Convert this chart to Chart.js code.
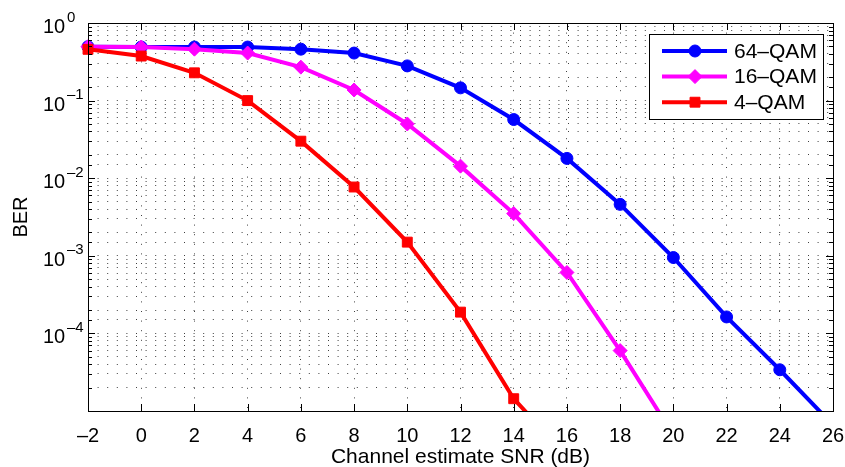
<!DOCTYPE html>
<html>
<head>
<meta charset="utf-8">
<title>BER vs Channel estimate SNR</title>
<script src="https://cdn.jsdelivr.net/npm/chart.js@4.4.1/dist/chart.umd.min.js"></script>
<style>
    html, body { margin: 0; padding: 0; background: #fff; }
    #wrap { width: 845px; height: 467px; }
</style>
</head>
<body>
<div id="wrap"><canvas id="berChart"></canvas></div>
<script>
// Datos (BER vs SNR)
const snrDb = [-2, 0, 2, 4, 6, 8, 10, 12, 14, 16, 18, 20, 22, 24, 26];
const ber64 = [0.495, 0.49, 0.49, 0.49, 0.46, 0.41, 0.28, 0.146, 0.057, 0.018, 0.0046, 0.00095, 1.63e-4, 3.4e-5, 6.6e-6];
const ber16 = [0.495, 0.49, 0.46, 0.41, 0.27, 0.137, 0.05, 0.0143, 0.0035, 6.1e-4, 6.0e-5, 4.9e-6];
const ber4 = [0.458, 0.375, 0.228, 0.1, 0.030, 0.0077, 0.0015, 1.88e-4, 1.44e-5, 2.6e-6];
const seriesLabels = ['64–QAM', '16–QAM', '4–QAM'];
const xTickValues = [-2, 0, 2, 4, 6, 8, 10, 12, 14, 16, 18, 20, 22, 24, 26];
const yTickExponents = [0, -1, -2, -3, -4];

const FONT = "'Liberation Sans', Arial, sans-serif";
const GRID = 'rgba(0, 0, 0, 0.75)';

function toPoints(values) {
    return values.map((v, i) => ({ x: snrDb[i], y: v }));
}

function makeSeries(label, values, color, style, radius, order) {
    return {
        label: label,
        data: toPoints(values),
        borderColor: color,
        backgroundColor: color,
        borderWidth: 4,
        pointStyle: style,
        pointRadius: radius,
        pointBorderWidth: 1,
        pointBackgroundColor: color,
        pointBorderColor: color,
        tension: 0,
        order: order,
        clip: { left: 12, top: 12, right: 0, bottom: 0 }
    };
}

// Caja de ejes con marcas hacia dentro (estilo MATLAB)
const axesBox = {
    id: 'axesBox',
    afterDatasetsDraw(chart) {
        const ctx = chart.ctx;
        const a = chart.chartArea;
        const xs = chart.scales.x;
        const ys = chart.scales.y;
        ctx.save();
        ctx.strokeStyle = '#000';
        ctx.lineWidth = 1;
        ctx.beginPath();
        xs.ticks.forEach(t => {
            const px = Math.round(xs.getPixelForValue(t.value)) + 0.5;
            ctx.moveTo(px, a.bottom);
            ctx.lineTo(px, a.bottom - 7);
            ctx.moveTo(px, a.top);
            ctx.lineTo(px, a.top + 7);
        });
        ys.ticks.forEach(t => {
            const e = Math.log10(t.value);
            const len = Math.abs(e - Math.round(e)) < 1e-9 ? 7 : 4;
            const py = Math.round(ys.getPixelForValue(t.value)) + 0.5;
            ctx.moveTo(a.left, py);
            ctx.lineTo(a.left + len, py);
            ctx.moveTo(a.right, py);
            ctx.lineTo(a.right - len, py);
        });
        ctx.stroke();
        ctx.strokeRect(Math.round(a.left) + 0.5, Math.round(a.top) + 0.5,
            Math.round(a.right - a.left), Math.round(a.bottom - a.top));
        ctx.restore();
    }
};

// Etiquetas 10^n del eje Y
const yLabels = {
    id: 'yLabels',
    afterDraw(chart) {
        const ctx = chart.ctx;
        const ys = chart.scales.y;
        const left = chart.chartArea.left;
        ctx.save();
        ctx.fillStyle = '#000';
        ctx.textAlign = 'left';
        ctx.textBaseline = 'alphabetic';
        yTickExponents.forEach(e => {
            const py = ys.getPixelForValue(Math.pow(10, e));
            ctx.font = '20px ' + FONT;
            ctx.fillText('10', left - 45, py + 10);
            ctx.font = '15px ' + FONT;
            ctx.fillText(e < 0 ? '–' + (-e) : String(e), left - 21, py - 1.5);
        });
        ctx.restore();
    }
};

// Leyenda con recuadro dentro del área
const boxLegend = {
    id: 'boxLegend',
    afterDraw(chart) {
        const ctx = chart.ctx;
        const a = chart.chartArea;
        const w = 174, h = 85;
        const x0 = Math.round(a.right - 10 - w);
        const y0 = Math.round(a.top + 11);
        ctx.save();
        ctx.fillStyle = '#fff';
        ctx.fillRect(x0, y0, w, h);
        ctx.strokeStyle = '#000';
        ctx.lineWidth = 1;
        ctx.strokeRect(x0 + 0.5, y0 + 0.5, w, h);
        chart.data.datasets.forEach((ds, i) => {
            const cy = y0 + 17 + i * 25.6;
            ctx.strokeStyle = ds.borderColor;
            ctx.fillStyle = ds.borderColor;
            ctx.lineWidth = ds.borderWidth;
            ctx.beginPath();
            ctx.moveTo(x0 + 13, cy);
            ctx.lineTo(x0 + 78, cy);
            ctx.stroke();
            ctx.lineWidth = 1;
            Chart.helpers.drawPoint(ctx, {
                pointStyle: ds.pointStyle,
                radius: ds.pointRadius,
                borderWidth: 1,
                rotation: 0
            }, x0 + 46, cy);
            ctx.fillStyle = '#000';
            ctx.font = '21px ' + FONT;
            ctx.textAlign = 'left';
            ctx.textBaseline = 'middle';
            ctx.fillText(ds.label, x0 + 85, cy + 1);
        });
        ctx.restore();
    }
};

new Chart(document.getElementById('berChart'), {
    type: 'line',
    data: {
        datasets: [
            makeSeries(seriesLabels[0], ber64, '#0000ff', 'circle', 6, 2),
            makeSeries(seriesLabels[1], ber16, '#ff00ff', 'rectRot', 7, 1),
            makeSeries(seriesLabels[2], ber4, '#ff0000', 'rect', 7, 0)
        ]
    },
    options: {
        responsive: true,
        maintainAspectRatio: false,
        animation: false,
        layout: { padding: { top: 23, right: 12, left: 0, bottom: 0 } },
        plugins: {
            legend: { display: false },
            tooltip: { enabled: false }
        },
        scales: {
            x: {
                type: 'linear',
                min: -2,
                max: 26,
                afterBuildTicks: s => { s.ticks = xTickValues.map(v => ({ value: v })); },
                afterFit: s => {
                    s.height = 56;
                    s.paddingLeft = 0;
                    s.paddingRight = 0;
                },
                grid: { color: GRID, lineWidth: 1, drawTicks: false },
                border: { display: false, dash: [1, 8.6] },
                ticks: {
                    padding: 13,
                    color: '#000',
                    autoSkip: false,
                    maxRotation: 0,
                    font: { family: FONT, size: 20 },
                    callback: v => (v < 0 ? '–' + Math.abs(v) : String(v))
                },
                title: {
                    display: true,
                    text: 'Channel estimate SNR (dB)',
                    color: '#000',
                    font: { family: FONT, size: 21 },
                    padding: { top: 0, bottom: -3 }
                }
            },
            y: {
                type: 'logarithmic',
                min: 1e-5,
                max: 1,
                afterFit: s => { s.width = 88; },
                grid: { color: GRID, lineWidth: 1, drawTicks: false },
                border: { display: false, dash: [1, 8.6] },
                ticks: { display: false },
                title: {
                    display: true,
                    text: 'BER',
                    color: '#000',
                    font: { family: FONT, size: 20 },
                    padding: { top: 9, bottom: 0 }
                }
            }
        }
    },
    plugins: [axesBox, yLabels, boxLegend]
});
</script>
</body>
</html>
